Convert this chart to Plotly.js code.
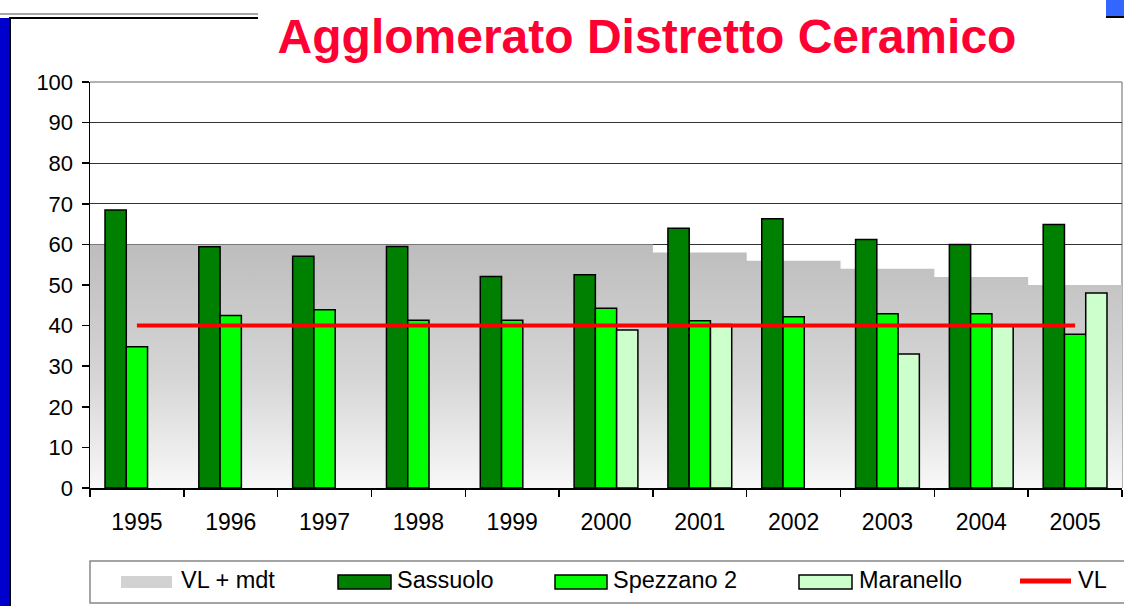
<!DOCTYPE html>
<html>
<head>
<meta charset="utf-8">
<script src="https://cdn.plot.ly/plotly-3.0.1.min.js"></script>
<style>html,body{margin:0;padding:0;background:#fff;}#chart{width:1124px;height:606px;}</style>
</head>
<body>
<div id="chart"></div>
<script>
const years = [1995, 1996, 1997, 1998, 1999, 2000, 2001, 2002, 2003, 2004, 2005];
const yearLabels = ["1995", "1996", "1997", "1998", "1999", "2000", "2001", "2002", "2003", "2004", "2005"];
const vlMdt = [60, 60, 60, 60, 60, 60, 58, 56, 54, 52, 50];
const sassuolo = [68.5, 59.4, 57.1, 59.5, 52.1, 52.5, 64.0, 66.3, 61.2, 60.0, 64.9];
const spezzano2 = [34.8, 42.5, 43.9, 41.3, 41.3, 44.3, 41.2, 42.2, 42.9, 42.9, 37.9];
const maranello = [null, null, null, null, null, 38.9, 40.3, null, 33.0, 40.0, 48.0];
const vl = [40, 40, 40, 40, 40, 40, 40, 40, 40, 40, 40];
const seriesNames = ["VL + mdt", "Sassuolo", "Spezzano 2", "Maranello", "VL"];

const W = 1124, H = 606, L = 90, R = 2, T = 82, B = 118;
const PW = W - L - R, PH = H - T - B;
const px = x => (x - L) / PW;
const py = y => (H - B - y) / PH;

// step edges for the VL + mdt band
const edges = years.map(y => y - 0.5).concat([years[years.length - 1] + 0.5]);
const stepY = vlMdt.concat([vlMdt[vlMdt.length - 1]]);

const FONT = "Liberation Sans, Arial, sans-serif";

const traces = [
  {
    type: "scatter", x: edges, y: stepY, mode: "lines", name: seriesNames[0],
    line: {shape: "hv", width: 0, color: "rgba(0,0,0,0)"},
    fill: "tozeroy", fillcolor: "#cccccc",
    fillgradient: {type: "vertical", colorscale: [[0, "#f8f8f8"], [0.45, "#d6d6d6"], [1, "#bdbdbd"]]},
    xaxis: "x", yaxis: "y", hoverinfo: "skip", showlegend: false
  },
  {
    type: "bar", x: years, y: sassuolo, name: seriesNames[1],
    marker: {color: "#008000", line: {color: "#000", width: 1.5}},
    xaxis: "x2", yaxis: "y2", showlegend: false
  },
  {
    type: "bar", x: years, y: spezzano2, name: seriesNames[2],
    marker: {color: "#00ff00", line: {color: "#000", width: 1.5}},
    xaxis: "x2", yaxis: "y2", showlegend: false
  },
  {
    type: "bar", x: years, y: maranello, name: seriesNames[3],
    marker: {color: "#ccffcc", line: {color: "#000", width: 1.5}},
    xaxis: "x2", yaxis: "y2", showlegend: false
  },
  {
    type: "scatter", x: years, y: vl, mode: "lines", name: seriesNames[4],
    line: {color: "#ff0000", width: 4},
    xaxis: "x2", yaxis: "y2", showlegend: false
  }
];

const xr = [years[0] - 0.5, years[years.length - 1] + 0.5];

const shapes = [
  // left blue bar decoration
  {type: "rect", xref: "paper", yref: "paper", x0: px(0), x1: px(9), y0: py(606), y1: py(18), fillcolor: "#0000cc", line: {width: 0}},
  {type: "line", xref: "paper", yref: "paper", x0: px(10), x1: px(10), y0: py(606), y1: py(17), line: {color: "#000", width: 2}},
  {type: "line", xref: "paper", yref: "paper", x0: px(0), x1: px(258), y0: py(14), y1: py(14), line: {color: "#888", width: 1.5}},
  {type: "line", xref: "paper", yref: "paper", x0: px(10), x1: px(258), y0: py(18), y1: py(18), line: {color: "#000", width: 2}},
  // top right blue square
  {type: "rect", xref: "paper", yref: "paper", x0: px(1106), x1: px(1126), y0: py(16), y1: py(-2), fillcolor: "#3366ff", line: {width: 0}},
  {type: "line", xref: "paper", yref: "paper", x0: px(1106), x1: px(1126), y0: py(17), y1: py(17), line: {color: "#000", width: 2}},
  // plot area border (top / right)
  {type: "line", xref: "paper", yref: "paper", x0: 0, x1: 1, y0: 1, y1: 1, layer: "below", line: {color: "#999", width: 1.5}},
  {type: "line", xref: "paper", yref: "paper", x0: 1, x1: 1, y0: 0, y1: 1, layer: "below", line: {color: "#999", width: 1.5}},
  // legend box
  {type: "rect", xref: "paper", yref: "paper", x0: px(90), x1: px(1140), y0: py(603), y1: py(561), fillcolor: "#fff", line: {color: "#888", width: 1.5}},
  // legend swatches
  {type: "rect", xref: "paper", yref: "paper", x0: px(121), x1: px(172), y0: py(588), y1: py(576), fillcolor: "#d2d2d2", line: {width: 0}},
  {type: "rect", xref: "paper", yref: "paper", x0: px(338), x1: px(391), y0: py(589), y1: py(575), fillcolor: "#008000", line: {color: "#000", width: 1.5}},
  {type: "rect", xref: "paper", yref: "paper", x0: px(555), x1: px(607), y0: py(589), y1: py(575), fillcolor: "#00ff00", line: {color: "#000", width: 1.5}},
  {type: "rect", xref: "paper", yref: "paper", x0: px(799), x1: px(852), y0: py(589), y1: py(575), fillcolor: "#ccffcc", line: {color: "#000", width: 1.5}},
  {type: "line", xref: "paper", yref: "paper", x0: px(1020), x1: px(1071), y0: py(581), y1: py(581), line: {color: "#ff0000", width: 5}}
];

const legendX = [179, 395, 611, 857, 1076];
const annotations = seriesNames.map((n, i) => ({
  text: n, xref: "paper", yref: "paper", x: px(legendX[i]), y: py(580),
  xanchor: "left", yanchor: "middle", showarrow: false,
  font: {family: FONT, size: 23.5, color: "#000"}
}));

const layout = {
  width: W, height: H,
  margin: {l: L, r: R, t: T, b: B, pad: 0},
  paper_bgcolor: "#fff", plot_bgcolor: "#fff",
  showlegend: false,
  barmode: "group", bargap: 0.32, bargroupgap: 0,
  title: {
    text: "Agglomerato Distretto Ceramico",
    font: {family: FONT, size: 48, color: "#ff0033", weight: "bold"},
    xref: "paper", x: px(647), xanchor: "center",
    yref: "container", y: 1 - 36 / H, yanchor: "middle"
  },
  xaxis: {
    range: xr, showgrid: false, zeroline: false,
    showline: true, linecolor: "#000", linewidth: 1.5,
    tickmode: "array", tickvals: years, ticktext: yearLabels, ticks: "",
    ticklabelstandoff: 13,
    tickfont: {family: FONT, size: 23, color: "#000"},
    minor: {tickmode: "array", tickvals: edges, ticks: "outside", ticklen: 7, tickcolor: "#000", tickwidth: 1.5, showgrid: false}
  },
  yaxis: {
    range: [0, 100], tickmode: "linear", tick0: 0, dtick: 10,
    showgrid: true, gridcolor: "#333", gridwidth: 1, zeroline: false,
    showline: true, linecolor: "#000", linewidth: 1.5,
    ticks: "outside", ticklen: 7, tickcolor: "#000", tickwidth: 1.5,
    ticklabelstandoff: 4,
    tickfont: {family: FONT, size: 22, color: "#000"}
  },
  xaxis2: {overlaying: "x", anchor: "y2", range: xr, visible: false},
  yaxis2: {overlaying: "y", anchor: "x2", range: [0, 100], visible: false},
  shapes: shapes,
  annotations: annotations
};

Plotly.newPlot("chart", traces, layout, {displayModeBar: false, staticPlot: true});
</script>
</body>
</html>
